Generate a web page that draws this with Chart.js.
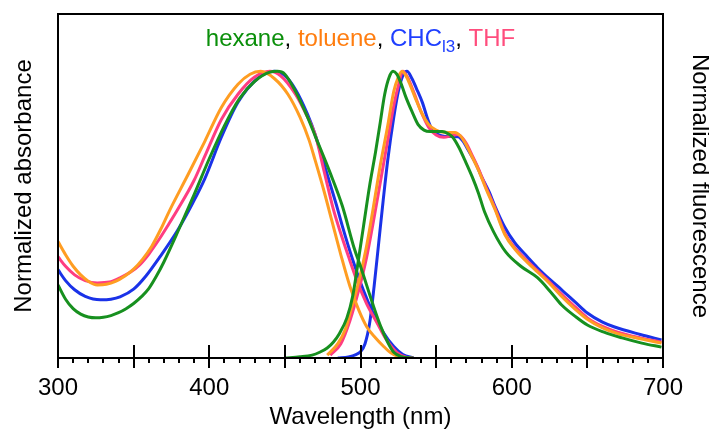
<!DOCTYPE html>
<html><head><meta charset="utf-8">
<script src="https://cdn.jsdelivr.net/npm/chart.js@4.4.1/dist/chart.umd.min.js"></script>
<style>html,body{margin:0;padding:0;background:#fff;}#wrap{width:709px;height:432px;}</style>
</head><body><div id="wrap"><canvas id="c" width="709" height="432"></canvas></div>
<script>
// ---- data (normalized) ----
const xLabelTicks = [300, 400, 500, 600, 700];
const minorTickStep = 10;
const majorTickStep = 50;

const hexaneAbsWl = [300,305,310,315,320,325,330,335,340,345,350,355,360,365,370,380,390,400,410,420,430,440,445,450,457,465,470,480,488,496,500,508,513,518,522,527,535];
const hexaneAbs   = [0.255,0.205,0.172,0.153,0.143,0.140,0.142,0.148,0.158,0.172,0.190,0.213,0.242,0.285,0.335,0.450,0.570,0.695,0.810,0.905,0.965,0.997,1.0,0.990,0.930,0.840,0.775,0.645,0.530,0.380,0.320,0.190,0.115,0.055,0.020,0.005,0];
const tolueneAbsWl = [300,305,310,315,320,326,332,338,344,350,356,362,368,374,386,397,408,419,427,434,443,452,460,466,470,476,481,487,493,499,504,510,515,520,525,530];
const tolueneAbs   = [0.406,0.360,0.320,0.290,0.268,0.255,0.257,0.267,0.285,0.310,0.345,0.390,0.450,0.517,0.640,0.755,0.874,0.955,0.990,1.0,0.975,0.920,0.840,0.760,0.690,0.580,0.480,0.360,0.250,0.165,0.110,0.070,0.042,0.018,0.005,0];
const chcl3AbsWl = [300,305,311,318,328,335,341,350,358,367,379,389,397,408,419,432,443,450,457,465,470,478,485,488,495,502,508,515,522,528,535];
const chcl3Abs   = [0.308,0.270,0.238,0.215,0.203,0.205,0.213,0.240,0.285,0.350,0.445,0.540,0.625,0.770,0.892,0.975,1.0,0.985,0.937,0.850,0.780,0.640,0.517,0.460,0.340,0.235,0.160,0.090,0.040,0.012,0];
const thfAbsWl = [300,305,311,318,326,334,341,348,354,360,367,373,379,390,397,408,419,430,440,447,457,465,470,476,482,486,492,498,504,511,517,524,530,535];
const thfAbs   = [0.353,0.320,0.290,0.270,0.262,0.265,0.280,0.300,0.325,0.362,0.415,0.465,0.517,0.620,0.703,0.832,0.920,0.980,1.0,0.985,0.920,0.840,0.780,0.650,0.520,0.450,0.355,0.265,0.190,0.122,0.065,0.020,0.003,0];

const hexaneFlWl = [450,460,468,473,478,482,486,491,495,498,502,506,510,513,516,519,521.5,524,527,530,534,538,542,546,550,554,558,561,565,569,574,578,582,588,596,606,617,625,633,642,650,661,673,686,699];
const hexaneFl   = [0,0.004,0.010,0.020,0.035,0.055,0.085,0.140,0.220,0.320,0.460,0.600,0.720,0.820,0.920,0.980,1.0,0.990,0.955,0.910,0.860,0.815,0.795,0.790,0.790,0.790,0.782,0.770,0.735,0.690,0.630,0.575,0.510,0.440,0.370,0.320,0.280,0.235,0.185,0.145,0.115,0.090,0.070,0.052,0.038];
const tolueneFlWl = [478,485,490,493,499,504,508,513,518,522,525,527.4,530,533,536,540,545,550,554,558,562.5,566,569,573,578,583,589,595.5,602,610,617,625,633,642,650,660,670,685,699];
const tolueneFl   = [0.010,0.050,0.100,0.155,0.270,0.390,0.510,0.670,0.810,0.930,0.980,1.0,0.985,0.950,0.910,0.860,0.815,0.795,0.788,0.787,0.787,0.775,0.752,0.710,0.655,0.590,0.517,0.430,0.380,0.335,0.300,0.260,0.215,0.170,0.135,0.105,0.085,0.067,0.052];
const chcl3FlWl = [485,492,497,500,503,506,509,512,515,518,522,525,528,530.7,534,537,541,544,547,551,556,560,564.5,568,571,576,580,585,589,595.5,602,610,617,625,633,642,650,660,668,685,699];
const chcl3Fl   = [0,0.004,0.012,0.022,0.050,0.120,0.250,0.400,0.550,0.690,0.840,0.930,0.985,1.0,0.975,0.940,0.890,0.840,0.800,0.780,0.773,0.773,0.772,0.755,0.727,0.680,0.633,0.580,0.528,0.455,0.402,0.355,0.315,0.275,0.238,0.195,0.157,0.125,0.108,0.082,0.063];
const thfFlWl = [480,487,493,499,504,509,514,518,522,525,528,531,535,540,545,550,555,560,564,567,570,574,578,583,589,595.5,602,610,617,625,633,642,650,660,670,685,699];
const thfFl   = [0.010,0.050,0.130,0.240,0.350,0.490,0.640,0.760,0.880,0.950,1.0,0.980,0.930,0.860,0.805,0.778,0.770,0.775,0.780,0.770,0.748,0.705,0.660,0.595,0.522,0.435,0.385,0.340,0.305,0.265,0.222,0.178,0.140,0.110,0.090,0.070,0.055];

const lineColors = ['#17901f', '#ff9d22', '#1a32e8', '#ff3d80'];
const textColors = ['#0a8f0a', '#ff7d0f', '#1f3fff', '#ff4d7d'];
const drawOrder = [0, 1, 3, 2]; // green on top, then orange, pink, blue

const pts = (wl, v) => wl.map((w, i) => ({x: w, y: v[i]}));
const FONT = '"Liberation Sans", Arial, Helvetica, sans-serif';

function ds(label, wl, v, ci, axis) {
  return {
    label, data: pts(wl, v), borderColor: lineColors[ci], backgroundColor: lineColors[ci],
    borderWidth: 3, pointRadius: 0, fill: false, cubicInterpolationMode: 'monotone',
    yAxisID: axis, order: drawOrder[ci]
  };
}

const datasets = [
  ds('hexane abs', hexaneAbsWl, hexaneAbs, 0, 'y'),
  ds('toluene abs', tolueneAbsWl, tolueneAbs, 1, 'y'),
  ds('CHCl3 abs', chcl3AbsWl, chcl3Abs, 2, 'y'),
  ds('THF abs', thfAbsWl, thfAbs, 3, 'y'),
  ds('hexane fl', hexaneFlWl, hexaneFl, 0, 'y2'),
  ds('toluene fl', tolueneFlWl, tolueneFl, 1, 'y2'),
  ds('CHCl3 fl', chcl3FlWl, chcl3Fl, 2, 'y2'),
  ds('THF fl', thfFlWl, thfFl, 3, 'y2')
];

const framePlugin = {
  id: 'frame',
  afterDraw(chart) {
    const {ctx, chartArea: {left, right, top, bottom}, scales: {x}} = chart;
    ctx.save();
    ctx.strokeStyle = '#000';
    ctx.lineWidth = 2;
    ctx.beginPath();
    ctx.moveTo(left, bottom); ctx.lineTo(left, top); ctx.lineTo(right, top); ctx.lineTo(right, bottom); ctx.closePath();
    ctx.stroke();
    for (let v = x.min; v <= x.max; v += minorTickStep) {
      const px = Math.round(x.getPixelForValue(v));
      ctx.beginPath();
      if (v % majorTickStep === 0) { ctx.moveTo(px, bottom - 13); ctx.lineTo(px, bottom + 10); }
      else { ctx.moveTo(px, bottom); ctx.lineTo(px, bottom + 5); }
      ctx.stroke();
    }
    const segs = [
      {t: 'hexane', c: textColors[0]}, {t: ', ', c: '#000'},
      {t: 'toluene', c: textColors[1]}, {t: ', ', c: '#000'},
      {t: 'CHC', c: textColors[2]}, {t: 'l3', c: textColors[2], sub: true}, {t: ', ', c: '#000'},
      {t: 'THF', c: textColors[3]}
    ];
    const big = '24px ' + FONT, small = '17px ' + FONT;
    let total = 0;
    segs.forEach(s => { ctx.font = s.sub ? small : big; s.w = ctx.measureText(s.t).width; total += s.w; });
    let cx = (left + right) / 2 - total / 2;
    ctx.textBaseline = 'alphabetic';
    ctx.textAlign = 'left';
    segs.forEach(s => {
      ctx.font = s.sub ? small : big;
      ctx.fillStyle = s.c;
      ctx.fillText(s.t, cx, s.sub ? 52 : 46);
      cx += s.w;
    });
    ctx.restore();
  }
};

new Chart(document.getElementById('c'), {
  type: 'line',
  data: {datasets},
  plugins: [framePlugin],
  options: {
    responsive: false, animation: false, devicePixelRatio: 1,
    layout: {padding: {top: 14, left: 0, right: 0, bottom: 0}},
    plugins: {legend: {display: false}, tooltip: {enabled: false}},
    scales: {
      x: {
        type: 'linear', min: 300, max: 700, position: 'bottom',
        afterBuildTicks: (s) => { s.ticks = xLabelTicks.map(v => ({value: v})); },
        afterFit: (s) => { s.height = 74; },
        ticks: {color: '#000', font: {family: FONT, size: 24}, padding: 16, maxRotation: 0, autoSkip: false},
        grid: {display: false, drawTicks: false},
        border: {display: false},
        title: {display: true, text: 'Wavelength (nm)', color: '#000', font: {family: FONT, size: 24}, padding: {top: 0, bottom: 0}}
      },
      y: {
        type: 'linear', min: 0, max: 1.2, position: 'left',
        afterFit: (s) => { s.width = 58; },
        ticks: {display: false}, grid: {display: false, drawTicks: false}, border: {display: false},
        title: {display: true, text: 'Normalized absorbance', color: '#000', font: {family: FONT, size: 24, lineHeight: 1.2}, padding: {top: 10, bottom: 0}}
      },
      y2: {
        type: 'linear', min: 0, max: 1.2, position: 'right',
        afterFit: (s) => { s.width = 46; },
        ticks: {display: false}, grid: {display: false, drawTicks: false}, border: {display: false},
        title: {display: true, text: 'Normalized fluorescence', color: '#000', font: {family: FONT, size: 24, lineHeight: 1.0}, padding: {top: -3, bottom: 0}}
      }
    }
  }
});
</script></body></html>
